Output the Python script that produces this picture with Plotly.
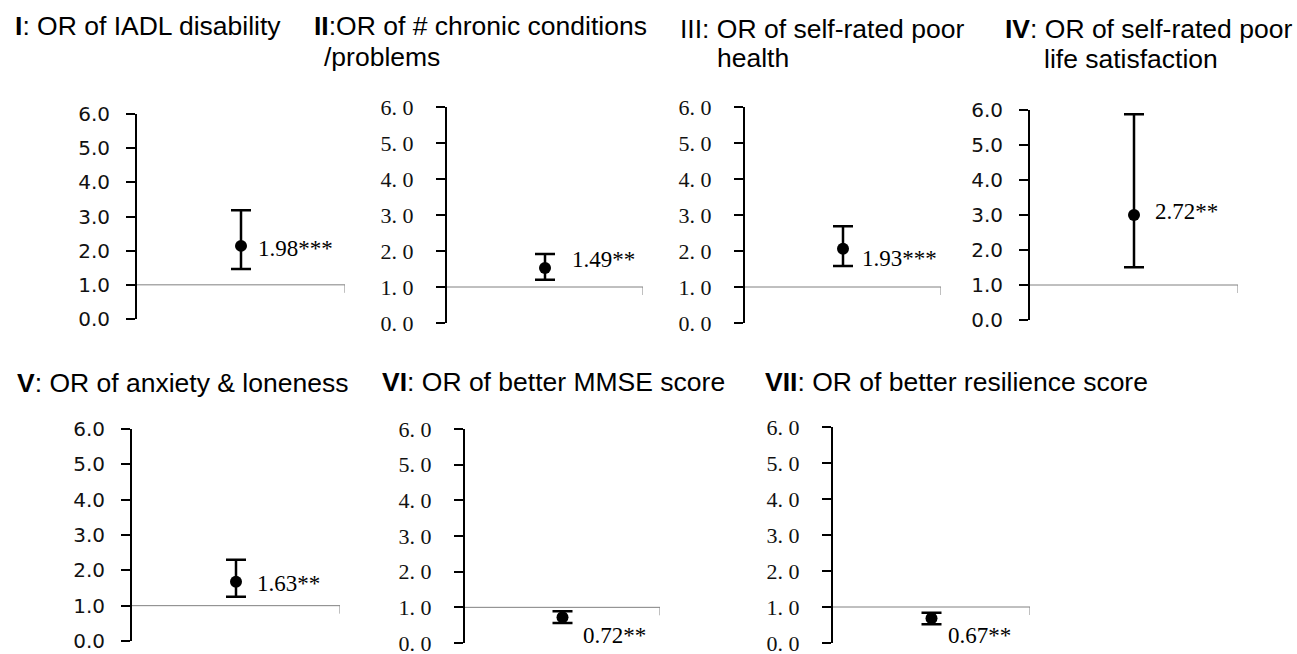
import plotly.graph_objects as go

# ---------------- data ----------------
panel_ids = ["I", "II", "III", "IV", "V", "VI", "VII"]
title_line1 = [
    "<b>I</b>: OR of IADL disability",
    "<b>II</b>:OR of # chronic conditions",
    "III: OR of self-rated poor",
    "<b>IV</b>: OR of self-rated poor",
    "<b>V</b>: OR of anxiety & loneness",
    "<b>VI</b>: OR of better MMSE score",
    "<b>VII</b>: OR of better resilience score",
]
title_line2 = ["", "/problems", "health", "life satisfaction", "", "", ""]
or_point = [2.14, 1.53, 2.06, 3.00, 1.68, 0.72, 0.69]
ci_upper = [3.18, 1.92, 2.69, 5.88, 2.30, 0.89, 0.84]
ci_lower = [1.46, 1.20, 1.58, 1.51, 1.25, 0.56, 0.52]
value_labels = ["1.98***", "1.49**", "1.93***", "2.72**", "1.63**", "0.72**", "0.67**"]
tick_values = [0, 1, 2, 3, 4, 5, 6]
tick_text_sans = ["0.0", "1.0", "2.0", "3.0", "4.0", "5.0", "6.0"]
tick_text_serif = ["0. 0", "1. 0", "2. 0", "3. 0", "4. 0", "5. 0", "6. 0"]
reference_or = 1.0

# ---------------- layout (pixels) ----------------
W, H = 1297, 654
# (x_left, x_right, y_px_at_0, y_px_at_6)
boxes = [
    (137, 345, 319, 114),
    (447, 643, 323, 107),
    (745, 941, 323, 107),
    (1030, 1238, 320, 110),
    (132, 340, 641, 429),
    (465, 660, 643, 429),
    (833, 1030, 643, 427),
]
serif_panel = [False, True, True, False, False, True, True]
label_offsets = [(15, 3), (25, -8), (17, 10), (19, -4), (19, 2), (18, 18), (14, 17)]
# title positions: (x1, y1_center, x2, y2_center)
title_pos = [
    (13, 26, None, None),
    (312, 26, 322, 57),
    (678, 29, 715, 58),
    (1003, 29, 1042, 59),
    (15, 383, None, None),
    (380, 382, None, None),
    (763, 382, None, None),
]

SANS = "Liberation Sans, Arial, sans-serif"
TICK_SANS = "DejaVu Sans, Verdana, sans-serif"
SERIF = "Liberation Serif, Times New Roman, serif"

fig = go.Figure()
annotations = []
shapes = []
layout_axes = {}

for i in range(len(panel_ids)):
    n = "" if i == 0 else str(i + 1)
    xl, xr, y0p, y6p = boxes[i]
    xdom = [xl / W, xr / W]
    ydom = [1 - y0p / H, 1 - y6p / H]

    fig.add_trace(go.Scatter(
        x=[0.5], y=[or_point[i]],
        xaxis="x" + n, yaxis="y" + n,
        mode="markers",
        marker=dict(color="black", size=12),
        error_y=dict(
            type="data", symmetric=False,
            array=[ci_upper[i] - or_point[i]],
            arrayminus=[or_point[i] - ci_lower[i]],
            color="black", thickness=2.5, width=10,
        ),
        showlegend=False, hoverinfo="skip",
    ))

    layout_axes["xaxis" + n] = dict(
        domain=xdom, range=[0, 1], visible=False, fixedrange=True,
        anchor="y" + n, automargin=False,
    )
    serif = serif_panel[i]
    layout_axes["yaxis" + n] = dict(
        domain=ydom, range=[0, 6], anchor="x" + n, automargin=False,
        showgrid=False, zeroline=False,
        showline=True, linecolor="black", linewidth=2,
        ticks="outside", ticklen=9, tickwidth=2, tickcolor="black",
        tickvals=tick_values,
        ticktext=tick_text_serif if serif else tick_text_sans,
        tickfont=dict(family=SERIF if serif else TICK_SANS,
                      size=22 if serif else 20, color="#111"),
        ticklabelstandoff=18 if serif else 12,
        ticklabeloverflow="allow",
        fixedrange=True,
    )

    # reference line at OR = 1
    shapes.append(dict(
        type="line", xref="x" + n, yref="y" + n,
        x0=0, x1=1, y0=reference_or, y1=reference_or,
        line=dict(color="#808080", width=1),
    ))
    shapes.append(dict(
        type="line", xref="x" + n, yref="y" + n,
        ysizemode="pixel", yanchor=reference_or,
        x0=1, x1=1, y0=0, y1=-8,
        line=dict(color="#808080", width=1),
    ))

    dx, dy = label_offsets[i]
    annotations.append(dict(
        xref="x" + n, yref="y" + n, x=0.5, y=or_point[i],
        text=value_labels[i], showarrow=False,
        xanchor="left", yanchor="middle", xshift=dx, yshift=-dy,
        font=dict(family=SERIF, size=23, color="black"),
    ))

    x1, y1, x2, y2 = title_pos[i]
    annotations.append(dict(
        xref="paper", yref="paper", x=x1 / W, y=1 - y1 / H,
        text=title_line1[i], showarrow=False,
        xanchor="left", yanchor="middle",
        font=dict(family=SANS, size=26.5, color="black"),
    ))
    if title_line2[i]:
        annotations.append(dict(
            xref="paper", yref="paper", x=x2 / W, y=1 - y2 / H,
            text=title_line2[i], showarrow=False,
            xanchor="left", yanchor="middle",
            font=dict(family=SANS, size=26.5, color="black"),
        ))

fig.update_layout(
    template="none",
    width=W, height=H,
    margin=dict(l=0, r=0, t=0, b=0, pad=0, autoexpand=False),
    paper_bgcolor="white", plot_bgcolor="white",
    showlegend=False,
    annotations=annotations,
    shapes=shapes,
    **layout_axes,
)

fig.write_html(
    "out.html",
    config={"displayModeBar": False},
    post_script="document.body.style.margin='0';document.body.style.overflow='hidden';",
)
